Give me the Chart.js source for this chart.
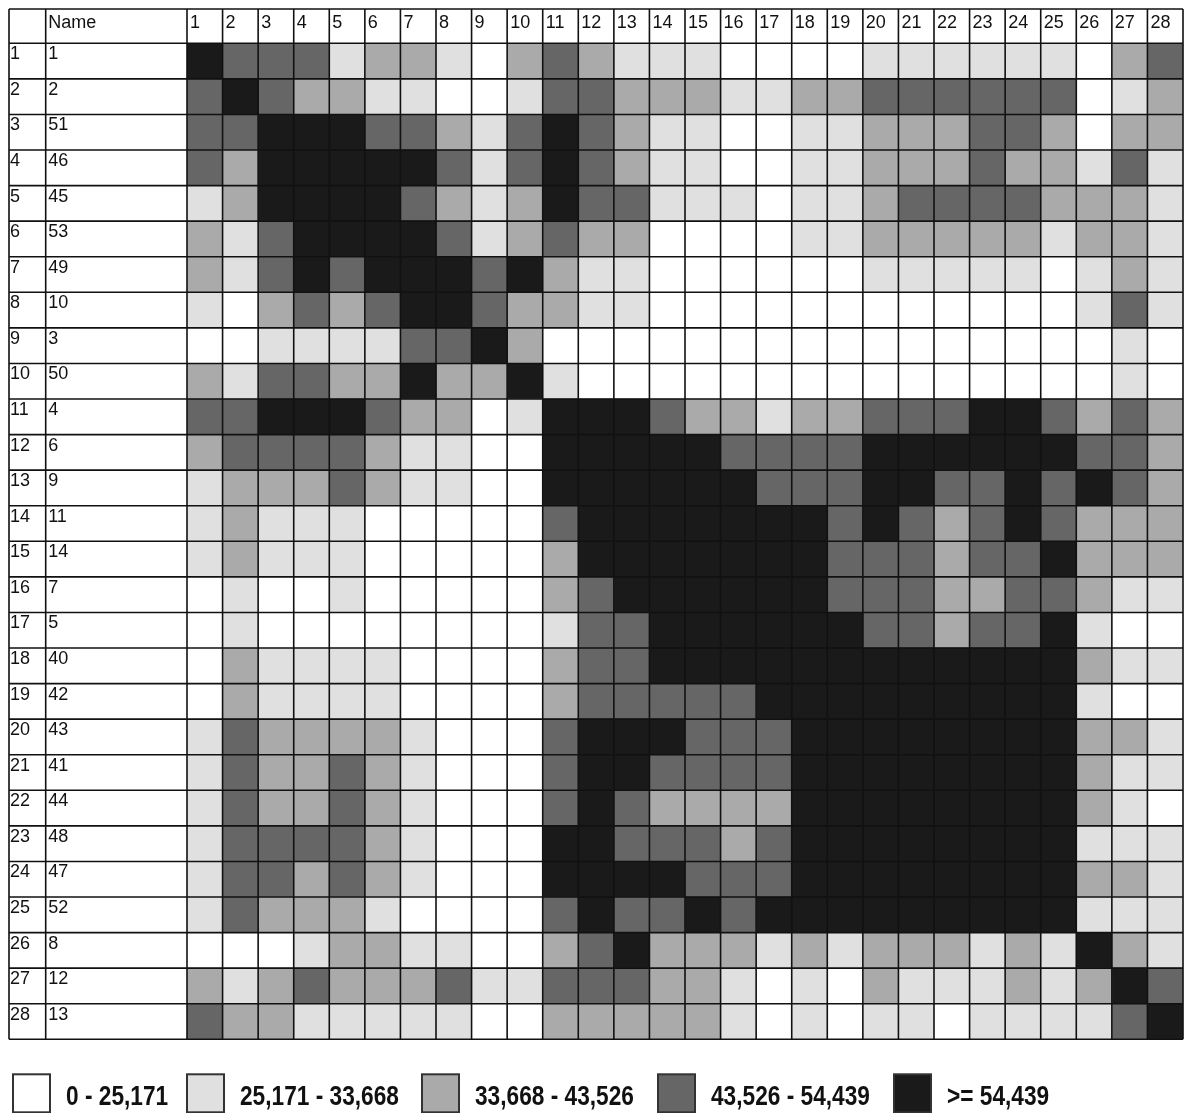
<!DOCTYPE html>
<html>
<head>
<meta charset="utf-8">
<script src="https://cdn.jsdelivr.net/npm/chart.js@4.4.1/dist/chart.umd.min.js"></script>
<style>
html, body { margin: 0; padding: 0; background: #ffffff; }
#wrap { width: 1184px; height: 1113px; position: relative; }
</style>
</head>
<body>
<div id="wrap"><canvas id="c" width="1184" height="1113"></canvas></div>
<script>
// ---- data ----
const rowIdx = ['1','2','3','4','5','6','7','8','9','10','11','12','13','14','15','16','17','18','19','20','21','22','23','24','25','26','27','28'];
const names = ['1','2','51','46','45','53','49','10','3','50','4','6','9','11','14','7','5','40','42','43','41','44','48','47','52','8','12','13'];
const colLabels = ['1','2','3','4','5','6','7','8','9','10','11','12','13','14','15','16','17','18','19','20','21','22','23','24','25','26','27','28'];
const headerName = 'Name';
const binLabels = ['0 - 25,171', '25,171 - 33,668', '33,668 - 43,526', '43,526 - 54,439', '>= 54,439'];
const binColors = ['#ffffff', '#e0e0e0', '#aaaaaa', '#666666', '#1a1a1a'];

// bin index (0..4) of each cell, one array per row
const r01 = [4,3,3,3,1,2,2,1,0,2,3,2,1,1, 1,0,0,0,0,1,1,1,1,1,1,0,2,3];
const r02 = [3,4,3,2,2,1,1,0,0,1,3,3,2,2, 2,1,1,2,2,3,3,3,3,3,3,0,1,2];
const r03 = [3,3,4,4,4,3,3,2,1,3,4,3,2,1, 1,0,0,1,1,2,2,2,3,3,2,0,2,2];
const r04 = [3,2,4,4,4,4,4,3,1,3,4,3,2,1, 1,0,0,1,1,2,2,2,3,2,2,1,3,1];
const r05 = [1,2,4,4,4,4,3,2,1,2,4,3,3,1, 1,1,0,1,1,2,3,3,3,3,2,2,2,1];
const r06 = [2,1,3,4,4,4,4,3,1,2,3,2,2,0, 0,0,0,1,1,2,2,2,2,2,1,2,2,1];
const r07 = [2,1,3,4,3,4,4,4,3,4,2,1,1,0, 0,0,0,0,0,1,1,1,1,1,0,1,2,1];
const r08 = [1,0,2,3,2,3,4,4,3,2,2,1,1,0, 0,0,0,0,0,0,0,0,0,0,0,1,3,1];
const r09 = [0,0,1,1,1,1,3,3,4,2,0,0,0,0, 0,0,0,0,0,0,0,0,0,0,0,0,1,0];
const r10 = [2,1,3,3,2,2,4,2,2,4,1,0,0,0, 0,0,0,0,0,0,0,0,0,0,0,0,1,0];
const r11 = [3,3,4,4,4,3,2,2,0,1,4,4,4,3, 2,2,1,2,2,3,3,3,4,4,3,2,3,2];
const r12 = [2,3,3,3,3,2,1,1,0,0,4,4,4,4, 4,3,3,3,3,4,4,4,4,4,4,3,3,2];
const r13 = [1,2,2,2,3,2,1,1,0,0,4,4,4,4, 4,4,3,3,3,4,4,3,3,4,3,4,3,2];
const r14 = [1,2,1,1,1,0,0,0,0,0,3,4,4,4, 4,4,4,4,3,4,3,2,3,4,3,2,2,2];
const r15 = [1,2,1,1,1,0,0,0,0,0,2,4,4,4, 4,4,4,4,3,3,3,2,3,3,4,2,2,2];
const r16 = [0,1,0,0,1,0,0,0,0,0,2,3,4,4, 4,4,4,4,3,3,3,2,2,3,3,2,1,1];
const r17 = [0,1,0,0,0,0,0,0,0,0,1,3,3,4, 4,4,4,4,4,3,3,2,3,3,4,1,0,0];
const r18 = [0,2,1,1,1,1,0,0,0,0,2,3,3,4, 4,4,4,4,4,4,4,4,4,4,4,2,1,1];
const r19 = [0,2,1,1,1,1,0,0,0,0,2,3,3,3, 3,3,4,4,4,4,4,4,4,4,4,1,0,0];
const r20 = [1,3,2,2,2,2,1,0,0,0,3,4,4,4, 3,3,3,4,4,4,4,4,4,4,4,2,2,1];
const r21 = [1,3,2,2,3,2,1,0,0,0,3,4,4,3, 3,3,3,4,4,4,4,4,4,4,4,2,1,1];
const r22 = [1,3,2,2,3,2,1,0,0,0,3,4,3,2, 2,2,2,4,4,4,4,4,4,4,4,2,1,0];
const r23 = [1,3,3,3,3,2,1,0,0,0,4,4,3,3, 3,2,3,4,4,4,4,4,4,4,4,1,1,1];
const r24 = [1,3,3,2,3,2,1,0,0,0,4,4,4,4, 3,3,3,4,4,4,4,4,4,4,4,2,2,1];
const r25 = [1,3,2,2,2,1,0,0,0,0,3,4,3,3, 4,3,4,4,4,4,4,4,4,4,4,1,1,1];
const r26 = [0,0,0,1,2,2,1,1,0,0,2,3,4,2, 2,2,1,2,1,2,2,2,1,2,1,4,2,1];
const r27 = [2,1,2,3,2,2,2,3,1,1,3,3,3,2, 2,1,0,1,0,2,1,1,1,2,1,2,4,3];
const r28 = [3,2,2,1,1,1,1,1,0,0,2,2,2,2, 2,1,0,1,0,1,1,0,1,1,1,1,3,4];

const rows = [r01,r02,r03,r04,r05,r06,r07,r08,r09,r10,r11,r12,r13,r14,r15,r16,r17,r18,r19,r20,r21,r22,r23,r24,r25,r26,r27,r28];

// ---- one stacked dataset per column, one unit-wide cell per row ----
const datasets = colLabels.map((c, j) => ({
  label: c,
  data: rows.map(() => 1),
  backgroundColor: rows.map(r => binColors[r[j]]),
  borderWidth: 0,
  barPercentage: 1,
  categoryPercentage: 1
}));

const tableFrame = {
  id: 'tableFrame',
  afterDraw(chart, args, o) {
    const { ctx, chartArea: ca, scales: { x, y } } = chart;
    const n = names.length;
    const rowTop = r => y.getPixelForValue(r - 0.5);
    ctx.save();
    ctx.strokeStyle = o.lineColor;
    ctx.lineWidth = o.lineWidth;
    ctx.beginPath();
    ctx.moveTo(o.left, o.top); ctx.lineTo(ca.right, o.top);
    for (let r = 0; r <= n; r++) {
      const py = rowTop(r);
      ctx.moveTo(o.left, py); ctx.lineTo(ca.right, py);
    }
    ctx.moveTo(o.left, o.top); ctx.lineTo(o.left, ca.bottom);
    ctx.moveTo(o.idxRight, o.top); ctx.lineTo(o.idxRight, ca.bottom);
    for (let k = 0; k <= colLabels.length; k++) {
      const px = x.getPixelForValue(k);
      ctx.moveTo(px, o.top); ctx.lineTo(px, ca.bottom);
    }
    ctx.stroke();
    ctx.fillStyle = o.textColor;
    ctx.font = o.font;
    ctx.textAlign = 'left';
    ctx.textBaseline = 'alphabetic';
    ctx.fillText(headerName, o.idxRight + o.namePad, o.top + o.headBase);
    colLabels.forEach((c, k) => {
      ctx.fillText(c, x.getPixelForValue(k) + o.colPad, o.top + o.headBase);
    });
    for (let r = 0; r < n; r++) {
      const base = rowTop(r) + o.rowBase;
      ctx.fillText(rowIdx[r], o.left + o.idxPad, base);
      ctx.fillText(names[r], o.idxRight + o.namePad, base);
    }
    ctx.restore();
  }
};

// legend of the value bins, drawn under the grid
const binLegend = {
  id: 'binLegend',
  afterDraw(chart, args, o) {
    const { ctx, chartArea: ca } = chart;
    const top = ca.bottom + o.offsetY;
    ctx.save();
    binLabels.forEach((t, i) => {
      const bx = o.boxX[i];
      ctx.fillStyle = binColors[i];
      ctx.fillRect(bx, top, o.boxW, o.boxH);
      ctx.strokeStyle = o.boxBorder;
      ctx.lineWidth = o.boxLine;
      ctx.strokeRect(bx, top, o.boxW, o.boxH);
      ctx.save();
      ctx.translate(bx + o.textGap, top + o.textBase);
      ctx.scale(o.textScaleX, 1);
      ctx.fillStyle = o.textColor;
      ctx.font = o.font;
      ctx.textAlign = 'left';
      ctx.textBaseline = 'alphabetic';
      ctx.fillText(t, 0, 0);
      ctx.restore();
    });
    ctx.restore();
  }
};

const hiddenAxis = {
  display: true,
  ticks: { display: false },
  grid: { display: false, drawTicks: false },
  border: { display: false }
};

new Chart(document.getElementById('c'), {
  type: 'bar',
  data: { labels: names, datasets },
  plugins: [tableFrame, binLegend],
  options: {
    responsive: false,
    animation: false,
    devicePixelRatio: 1,
    indexAxis: 'y',
    layout: { padding: { left: 0, top: 0, right: 1, bottom: 0 } },
    scales: {
      x: Object.assign({}, hiddenAxis, {
        type: 'linear', position: 'top', stacked: true, min: 0, max: colLabels.length,
        afterFit(s) { s.height = 43.3; }
      }),
      xb: Object.assign({}, hiddenAxis, {
        type: 'linear', position: 'bottom',
        afterFit(s) { s.height = 73.7; }
      }),
      y: Object.assign({}, hiddenAxis, {
        type: 'category', stacked: true, offset: true,
        afterFit(s) { s.width = 187; }
      })
    },
    plugins: {
      tooltip: { enabled: false },
      legend: { display: false },
      tableFrame: {
        left: 9, top: 9, idxRight: 45.7,
        lineColor: '#111111', lineWidth: 1.6,
        textColor: '#111111',
        font: '18px "Liberation Sans", Arial, sans-serif',
        namePad: 2.5, idxPad: 1, colPad: 3,
        headBase: 19, rowBase: 16
      },
      binLegend: {
        offsetY: 35, boxX: [13, 187, 422, 658, 894], boxW: 37, boxH: 38,
        boxBorder: '#333333', boxLine: 2,
        textGap: 53, textBase: 31, textScaleX: 0.81,
        textColor: '#111111',
        font: 'bold 28px "Liberation Sans", Arial, sans-serif'
      }
    }
  }
});
</script>
</body>
</html>
